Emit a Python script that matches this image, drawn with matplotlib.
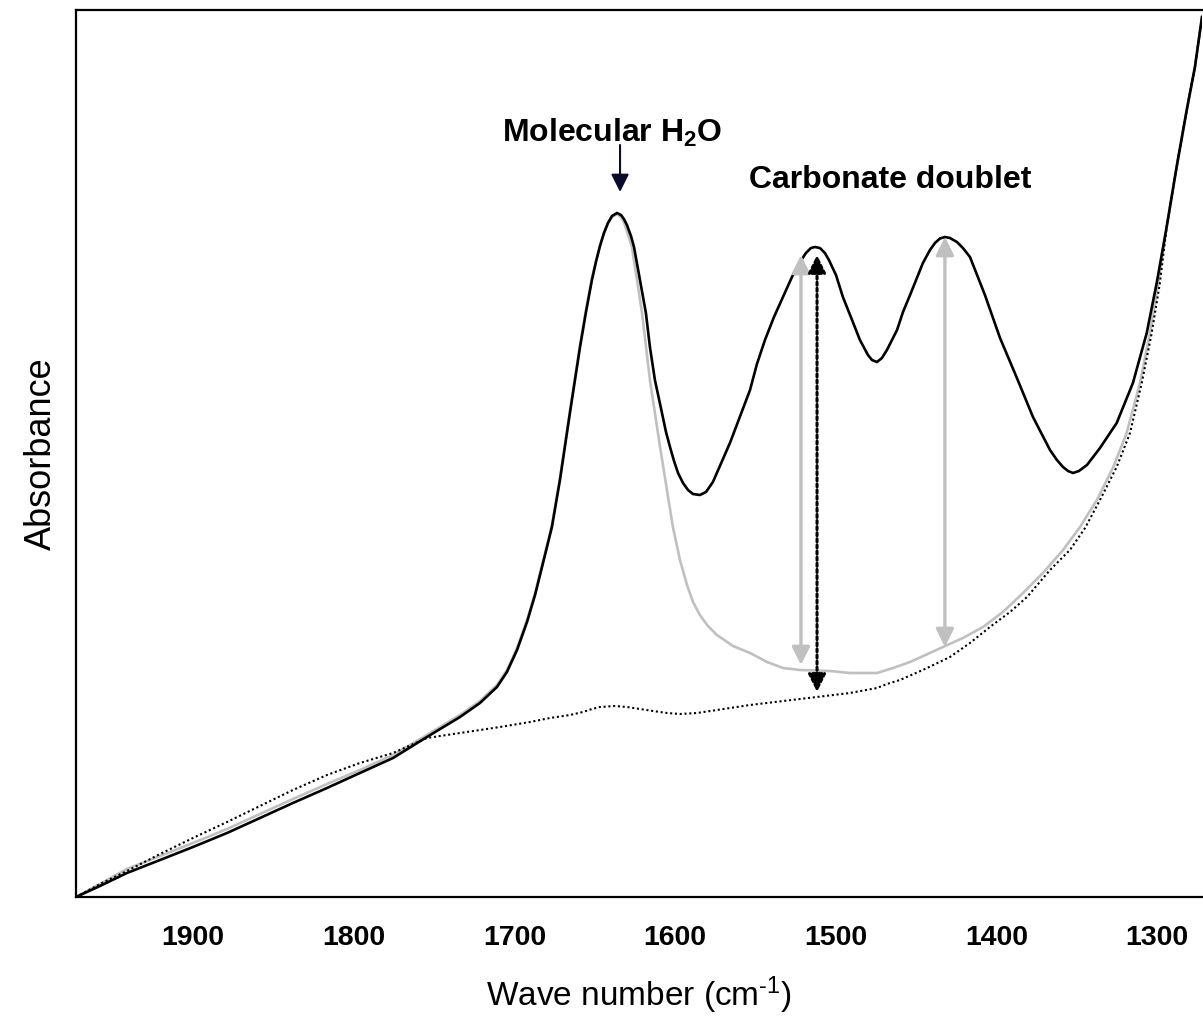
import matplotlib
matplotlib.use("Agg")
import matplotlib.pyplot as plt

plt.rcParams['font.family'] = ['Liberation Sans', 'DejaVu Sans']
plt.rcParams['mathtext.fontset'] = 'custom'
plt.rcParams['mathtext.rm'] = 'Liberation Sans'
plt.rcParams['mathtext.it'] = 'Liberation Sans:italic'
plt.rcParams['mathtext.bf'] = 'Liberation Sans:bold'

# ---- data (wavenumber, cm-1; absorbance, arbitrary units) ----
wn_sample = [1972.8, 1957.9, 1941.1, 1920.5, 1900.0, 1878.8, 1858.3, 1837.8, 1816.6, 1796.1,
             1775.5, 1754.4, 1733.8, 1721.4, 1710.8, 1704.6, 1698.3, 1692.1, 1687.1, 1680.9,
             1676.6, 1671.6, 1665.4, 1659.1, 1655.4, 1651.7, 1649.2, 1646.7, 1644.2, 1641.7,
             1639.2, 1636.1, 1633.6, 1631.8, 1629.9, 1627.4, 1625.5, 1621.8, 1618.1, 1615.6,
             1612.5, 1608.1, 1605.6, 1603.1, 1600.6, 1598.1, 1595.0, 1591.9, 1588.8, 1584.5,
             1580.7, 1576.4, 1565.8, 1553.3, 1549.0, 1544.0, 1538.4, 1532.8, 1527.2, 1522.2,
             1518.5, 1515.4, 1512.9, 1509.8, 1506.7, 1504.2, 1499.8, 1495.5, 1489.8, 1484.9,
             1479.9, 1477.4, 1474.3, 1471.2, 1468.1, 1461.8, 1458.1, 1453.7, 1445.7, 1441.3,
             1438.2, 1435.1, 1432.0, 1428.9, 1424.5, 1420.8, 1416.4, 1407.1, 1397.7, 1387.2,
             1377.2, 1366.6, 1362.3, 1358.5, 1355.4, 1352.3, 1348.6, 1343.6, 1335.5, 1325.1,
             1315.0, 1306.4, 1300.2, 1294.0, 1287.8, 1281.5, 1276.4, 1272.0]
abs_sample = [0.000, 0.011, 0.024, 0.037, 0.050, 0.064, 0.079, 0.094, 0.109, 0.124,
              0.139, 0.160, 0.180, 0.194, 0.210, 0.225, 0.247, 0.275, 0.302, 0.342,
              0.370, 0.417, 0.484, 0.550, 0.585, 0.617, 0.635, 0.651, 0.664, 0.674,
              0.681, 0.684, 0.682, 0.678, 0.672, 0.661, 0.650, 0.617, 0.584, 0.550,
              0.517, 0.484, 0.465, 0.450, 0.436, 0.424, 0.414, 0.407, 0.403, 0.402,
              0.405, 0.415, 0.454, 0.507, 0.533, 0.557, 0.580, 0.600, 0.620, 0.635,
              0.644, 0.649, 0.650, 0.649, 0.644, 0.637, 0.622, 0.600, 0.577, 0.557,
              0.542, 0.537, 0.535, 0.539, 0.547, 0.567, 0.585, 0.602, 0.634, 0.647,
              0.654, 0.6585, 0.660, 0.659, 0.655, 0.649, 0.640, 0.602, 0.559, 0.519,
              0.480, 0.447, 0.437, 0.430, 0.426, 0.424, 0.426, 0.432, 0.449, 0.474,
              0.514, 0.564, 0.614, 0.670, 0.730, 0.787, 0.830, 0.880]

wn_sub = [1972.8, 1957.9, 1941.1, 1920.5, 1900.0, 1878.8, 1858.3, 1837.8, 1816.6, 1796.1,
          1775.5, 1754.4, 1733.8, 1721.4, 1710.8, 1704.6, 1698.3, 1692.1, 1687.1, 1680.9,
          1676.6, 1671.6, 1665.4, 1659.1, 1655.4, 1651.7, 1649.2, 1646.7, 1644.2, 1641.7,
          1639.2, 1636.1, 1633.6, 1631.8, 1626.8, 1620.5, 1615.6, 1609.3, 1605.0, 1601.3,
          1596.9, 1592.5, 1588.8, 1584.5, 1579.5, 1573.9, 1563.9, 1553.3, 1542.7, 1532.8,
          1522.2, 1503.5, 1491.1, 1474.3, 1464.3, 1453.7, 1433.2, 1420.8, 1408.3, 1395.9,
          1383.4, 1371.0, 1358.5, 1347.9, 1337.4, 1327.2, 1318.9, 1310.6, 1304.4, 1299.2,
          1294.0, 1287.8, 1281.5, 1276.4, 1272.0]
abs_sub = [0.000, 0.013, 0.028, 0.041, 0.054, 0.068, 0.083, 0.098, 0.113, 0.127,
           0.142, 0.162, 0.182, 0.196, 0.212, 0.227, 0.249, 0.277, 0.304, 0.344,
           0.372, 0.419, 0.486, 0.552, 0.587, 0.619, 0.636, 0.651, 0.664, 0.674,
           0.680, 0.683, 0.680, 0.675, 0.650, 0.584, 0.517, 0.450, 0.407, 0.370,
           0.337, 0.312, 0.295, 0.282, 0.271, 0.262, 0.251, 0.244, 0.235, 0.229,
           0.227, 0.226, 0.224, 0.224, 0.229, 0.235, 0.250, 0.259, 0.270, 0.285,
           0.304, 0.324, 0.347, 0.370, 0.397, 0.430, 0.464, 0.514, 0.564, 0.614,
           0.670, 0.730, 0.787, 0.830, 0.880]

wn_base = [1972.8, 1957.9, 1941.1, 1920.5, 1900.0, 1878.8, 1858.3, 1837.8, 1816.6, 1796.1,
           1775.5, 1754.4, 1733.8, 1708.9, 1690.3, 1677.8, 1665.4, 1657.3, 1651.7, 1646.7,
           1637.4, 1629.9, 1621.8, 1613.7, 1605.0, 1596.9, 1586.3, 1573.9, 1553.3, 1522.2,
           1491.1, 1474.3, 1468.1, 1460.0, 1444.4, 1428.9, 1416.4, 1404.0, 1391.5, 1380.9,
           1366.6, 1354.2, 1344.8, 1335.5, 1325.1, 1316.8, 1309.5, 1303.3, 1298.2, 1294.0,
           1287.8, 1281.5, 1276.4, 1272.0]
abs_base = [0.000, 0.013, 0.026, 0.043, 0.059, 0.075, 0.091, 0.107, 0.122, 0.134,
            0.144, 0.159, 0.164, 0.170, 0.175, 0.179, 0.182, 0.185, 0.188, 0.190,
            0.191, 0.190, 0.188, 0.186, 0.184, 0.183, 0.184, 0.187, 0.192, 0.198,
            0.204, 0.209, 0.213, 0.217, 0.228, 0.240, 0.254, 0.270, 0.285, 0.300,
            0.327, 0.347, 0.369, 0.397, 0.430, 0.464, 0.514, 0.564, 0.614, 0.670,
            0.730, 0.787, 0.830, 0.880]

tick_values = [1900, 1800, 1700, 1600, 1500, 1400, 1300]
tick_labels = ['1900', '1800', '1700', '1600', '1500', '1400', '1300']

# peak-height arrows: (wavenumber, top, bottom)
gray_arrows = [(1521.6, 0.642, 0.232), (1432.0, 0.660, 0.250)]
black_arrow = (1511.6, 0.642, 0.205)
h2o_arrow = (1634.2, 0.752, 0.705)

fig = plt.figure(figsize=(12.03, 10.18), dpi=100)
ax = fig.add_axes([76 / 1203, 1 - 897 / 1018, (1202 - 76) / 1203, (897 - 10) / 1018])

ax.plot(wn_sub, abs_sub, color='#c0c0c0', lw=1.9, zorder=2, solid_joinstyle='round')
ax.plot(wn_sample, abs_sample, color='black', lw=1.9, zorder=3, solid_joinstyle='round')
ax.plot(wn_base, abs_base, color='black', lw=1.5, linestyle=(0, (1, 1.3)), zorder=3)

for x, top, bot in gray_arrows:
    ax.annotate('', xy=(x, top), xytext=(x, bot),
                arrowprops=dict(arrowstyle='<|-|>,head_length=0.6,head_width=0.3',
                                color='#c0c0c0', lw=2.4, shrinkA=0, shrinkB=0,
                                mutation_scale=18), zorder=4)
x, top, bot = black_arrow
ax.annotate('', xy=(x, top), xytext=(x, bot),
            arrowprops=dict(arrowstyle='<|-|>,head_length=0.6,head_width=0.3',
                            color='black', lw=2.2, linestyle=(0, (1, 1)), shrinkA=0, shrinkB=0,
                            mutation_scale=18), zorder=5)
x, top, bot = h2o_arrow
ax.annotate('', xy=(x, bot), xytext=(x, top),
            arrowprops=dict(arrowstyle='-|>,head_length=0.6,head_width=0.3',
                            color='#0b0b2b', lw=1.5, shrinkA=0, shrinkB=0,
                            mutation_scale=18), zorder=5)

ax.text(1639.2, 0.764, r'Molecular H$_\mathbf{2}$O', fontsize=23, fontweight='bold',
        ha='center', va='center')
ax.text(1466.2, 0.717, 'Carbonate doublet', fontsize=23, fontweight='bold',
        ha='center', va='center')

ax.set_xlim(1972.8, 1272.0)
ax.set_ylim(0, 0.887)
ax.set_xticks(tick_values)
ax.set_xticklabels(tick_labels, fontsize=20.5, fontweight='bold')
ax.set_yticks([])
ax.tick_params(axis='x', length=0, pad=20)
for s in ['left', 'top', 'bottom']:
    ax.spines[s].set_linewidth(1.6)
ax.spines['right'].set_visible(False)

ax.set_xlabel(r'Wave number (cm$^{\text{-}1}$)', fontsize=24, labelpad=17)
ax.set_ylabel('Absorbance', fontsize=26, labelpad=12)

fig.savefig('out.png', dpi=100)
